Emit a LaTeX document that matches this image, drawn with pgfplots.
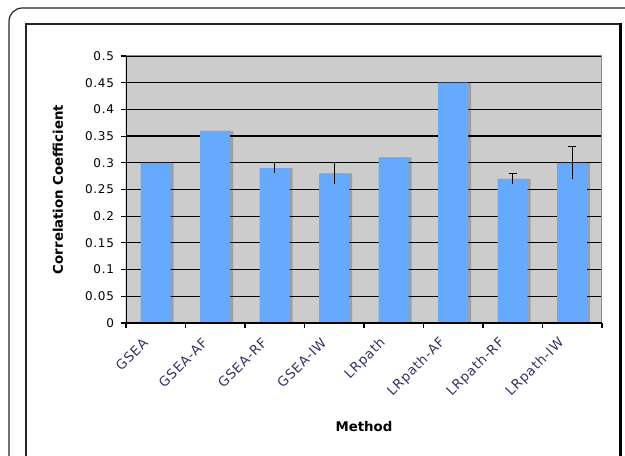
\documentclass[border=0pt]{standalone}
\usepackage{pgfplots}
\pgfplotsset{compat=1.18}
\usetikzlibrary{calc}
\usepackage{fontspec}
\setmainfont{DejaVu Sans}
\newfontfamily\widefont[LetterSpace=6]{DejaVu Sans}
\definecolor{bgc}{RGB}{204,204,204}
\definecolor{barc}{RGB}{102,170,255}
\definecolor{tlc}{RGB}{51,51,102}
\begin{document}
\begin{tikzpicture}[x=0.75pt,y=0.75pt]
\path[use as bounding box] (0,0) rectangle (625,456);
\draw[line width=0.9pt, black!85, rounded corners=10] (9,-30) -- (9,448) -- (660,448);
\draw[line width=0.9pt, black!85] (26,-30) -- (26,432) -- (620,432);
\draw[line width=2.2pt, black] (620.5,433) -- (620.5,-30);
\begin{axis}[
  at={(94.5pt,99.75pt)}, anchor=south west,
  scale only axis, width=357pt, height=200.25pt,
  xmin=-0.5, xmax=7.5, ymin=0, ymax=0.5,
  xtick={-0.5,0.5,...,7.5},
  x tick label as interval,
  xticklabels={GSEA,GSEA-AF,GSEA-RF,GSEA-IW,LRpath,LRpath-AF,LRpath-RF,LRpath-IW},
  ytick={0,0.05,0.1,0.15,0.2,0.25,0.3,0.35,0.4,0.45,0.5},
  yticklabels={0,0.05,0.1,0.15,0.2,0.25,0.3,0.35,0.4,0.45,0.5},
  tick pos=left, tick align=outside, major tick length=3.5pt,
  tick style={black, line width=0.8pt},
  ymajorgrids, grid style={black, line width=0.9pt},
  axis background/.style={fill=bgc},
  axis line style={draw=none},
  yticklabel style={black, font=\widefont\fontsize{9}{10}\selectfont, xshift=-2pt},
  xticklabel style={rotate=45, anchor=east, text=tlc, font=\widefont\fontsize{10}{11}\selectfont, xshift=-9pt, yshift=-1.5pt},
  xlabel={\textbf{Method}},
  ylabel={\textbf{Correlation Coefficient}},
  xlabel style={at={($(rel axis cs:0.5,0)+(0pt,-78pt)$)}, anchor=center},
  ylabel style={at={($(rel axis cs:0,0.5)+(-51pt,0pt)$)}, anchor=center},
  label style={font=\fontsize{10}{12}\selectfont},
]
\addplot[ybar, bar width=22.5pt, bar shift=2.2pt, fill=black, fill opacity=0.22, draw=none]
  coordinates {(0,0.30) (1,0.36) (2,0.29) (3,0.28) (4,0.31) (5,0.45) (6,0.27) (7,0.30)};
\addplot[ybar, bar width=22.5pt, bar shift=0pt, fill=barc, draw=none]
  coordinates {(0,0.30) (1,0.36) (2,0.29) (3,0.28) (4,0.31) (5,0.45) (6,0.27) (7,0.30)};
\addplot[draw=none, mark=none, error bars/.cd, y dir=both, y explicit, error mark=none,
  error bar style={black, line width=0.9pt}]
  coordinates {(2,0.29) +- (0,0.01) (3,0.28) +- (0,0.02)};
\addplot[draw=none, mark=none, error bars/.cd, y dir=plus, y explicit,
  error bar style={black, line width=0.9pt}, error mark options={rotate=90, mark size=3pt, black, line width=0.9pt}]
  coordinates {(6,0.27) +- (0,0.01) (7,0.30) +- (0,0.03)};
\addplot[draw=none, mark=none, error bars/.cd, y dir=minus, y explicit, error mark=none,
  error bar style={black, line width=0.9pt}]
  coordinates {(6,0.27) +- (0,0.01) (7,0.30) +- (0,0.03)};
\draw[black!45, line width=0.75pt] (rel axis cs:0,1) -- (rel axis cs:1,1) -- (rel axis cs:1,0);
\draw[black, line width=0.9pt] (rel axis cs:0,1) -- (rel axis cs:0,0) -- (rel axis cs:1,0);
\end{axis}
\end{tikzpicture}
\end{document}
